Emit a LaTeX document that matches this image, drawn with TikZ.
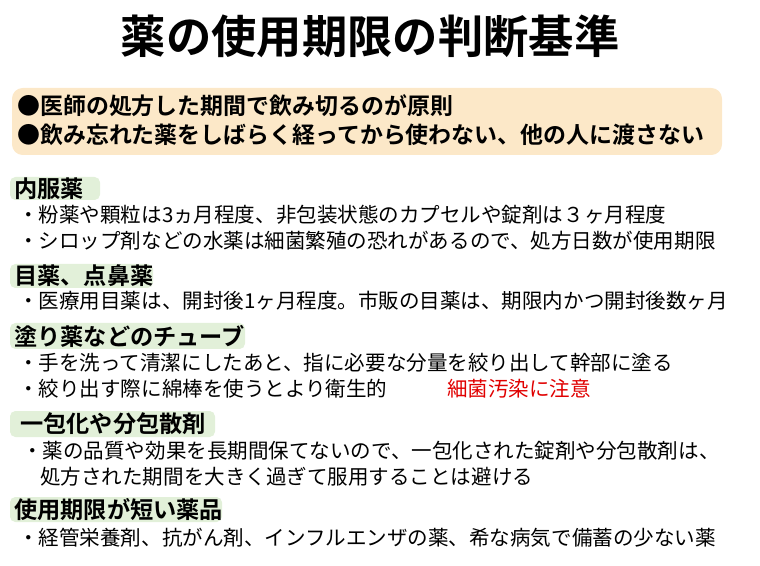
\documentclass[tikz,border=0pt]{standalone}
\usepackage{fontspec}
\setmainfont{Noto Sans CJK JP}
\newfontfamily\jpb{Noto Sans CJK JP Bold}
\definecolor{hg}{HTML}{E2F0D9}
\definecolor{topbg}{HTML}{FCE8C8}
\definecolor{redt}{HTML}{E00000}
\tikzset{
 hbox/.style={fill=hg,rounded corners=4pt,draw=none},
 head/.style={anchor=west,inner sep=0pt,font=\jpb\fontsize{17.4}{20}\selectfont},
 body/.style={anchor=west,inner sep=0pt,font=\fontsize{15.4}{18}\selectfont},
 topt/.style={anchor=west,inner sep=0pt,font=\jpb\fontsize{17.2}{20}\selectfont}
}
\begin{document}
\begin{tikzpicture}[x=0.75pt,y=-0.75pt]
\useasboundingbox (0,0) rectangle (760,566);
\node[inner sep=0pt,font=\jpb\fontsize{34}{38}\selectfont] (title) at (370,36) {薬の使用期限の判断基準};
\fill[topbg,rounded corners=8pt] (12,88) rectangle (722,155);
\node[topt] (t1) at (17,106) {●医師の処方した期間で飲み切るのが原則};
\node[topt] (t2) at (17,135) {●飲み忘れた薬をしばらく経ってから使わない、他の人に渡さない};

\fill[hbox] (10,177) rectangle (100,200);
\node[head] (h1) at (14,189) {内服薬};
\node[body] (b1) at (18,215) {・粉薬や顆粒は3ヵ月程度、非包装状態のカプセルや錠剤は３ヶ月程度};
\node[body] (b2) at (18,241) {・シロップ剤などの水薬は細菌繁殖の恐れがあるので、処方日数が使用期限};

\fill[hbox] (10,264) rectangle (153,288);
\node[head] (h2) at (14,276) {目薬、点鼻薬};
\node[body] (b3) at (18,301) {・医療用目薬は、開封後1ヶ月程度。市販の目薬は、期限内かつ開封後数ヶ月};

\fill[hbox] (10,323) rectangle (245,349);
\node[head] (h3) at (14,336) {塗り薬などのチューブ};
\node[body] (b4) at (18,363) {・手を洗って清潔にしたあと、指に必要な分量を絞り出して幹部に塗る};
\node[body] (b5) at (18,389) {・絞り出す際に綿棒を使うとより衛生的};
\node[body,text=redt] (b6) at (447,389) {細菌汚染に注意};

\fill[hbox] (10,411) rectangle (215,437);
\node[head] (h4) at (20,424) {一包化や分包散剤};
\node[body] (b7) at (22,451) {・薬の品質や効果を長期間保てないので、一包化された錠剤や分包散剤は、};
\node[body] (b8) at (40,477) {処方された期間を大きく過ぎて服用することは避ける};

\fill[hbox] (10,497) rectangle (222,522);
\node[head] (h5) at (14,510) {使用期限が短い薬品};
\node[body] (b9) at (18,538) {・経管栄養剤、抗がん剤、インフルエンザの薬、希な病気で備蓄の少ない薬};
\end{tikzpicture}
\end{document}
